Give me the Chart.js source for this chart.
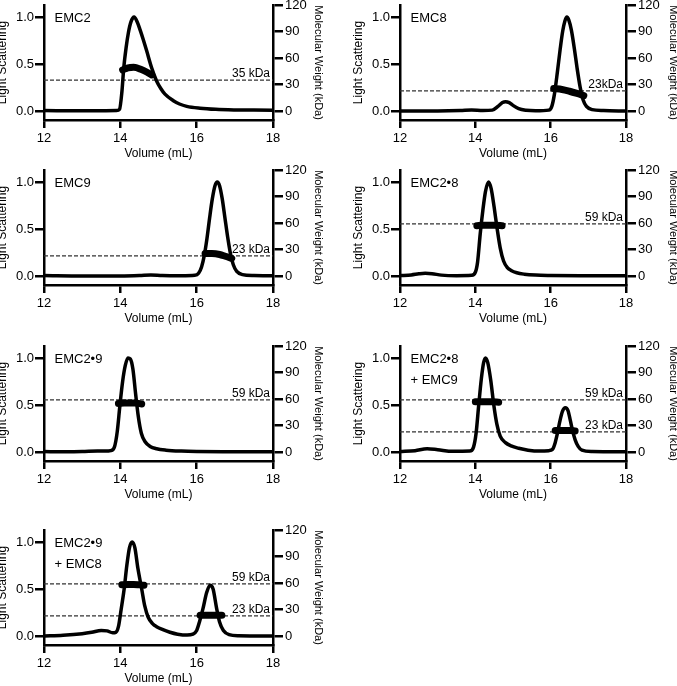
<!DOCTYPE html>
<html>
<head>
<meta charset="utf-8">
<title>SEC-MALS</title>
<script src="https://cdn.jsdelivr.net/npm/chart.js@4.4.1/dist/chart.umd.min.js"></script>
<style>
  html, body { margin: 0; padding: 0; background: #fff; overflow: hidden; }
  body { width: 677px; height: 686px; position: relative; }
  canvas { position: absolute; }
</style>
</head>
<body>
<canvas id="emc2"></canvas>
<canvas id="emc8"></canvas>
<canvas id="emc9"></canvas>
<canvas id="emc28"></canvas>
<canvas id="emc29"></canvas>
<canvas id="emc28p9"></canvas>
<canvas id="emc29p8"></canvas>
<script>
'use strict';

//
// Data
//

var volumeTicks = [12, 14, 16, 18];
var lsTicks = [0, 0.5, 1.0];
var mwTicks = [0, 30, 60, 90, 120];

// EMC2
var emc2Vol = [12.0, 13.0, 13.9, 13.98, 14.04, 14.09, 14.15, 14.21, 14.28, 14.36, 14.44, 14.52, 14.6, 14.69, 14.82, 14.95, 15.06, 15.17, 15.39, 15.55, 15.74, 16.09, 16.5, 17.0, 17.5, 18.0];
var emc2LS = [0.005, 0.003, 0.005, 0.02, 0.2, 0.46, 0.67, 0.83, 0.95, 1.0, 0.95, 0.86, 0.76, 0.64, 0.46, 0.32, 0.24, 0.18, 0.11, 0.075, 0.05, 0.03, 0.018, 0.012, 0.01, 0.008];
var emc2MwVol = [14.06, 14.2, 14.35, 14.55, 14.7, 14.82];
var emc2Mw = [46.5, 49, 49.5, 47, 44, 41];
var emc2Mass = [35];
var emc2MassLabels = ['35 kDa'];

// EMC8
var emc8Vol = [12.0, 13.0, 13.6, 13.9, 14.2, 14.45, 14.6, 14.72, 14.8, 14.9, 15.0, 15.15, 15.35, 15.6, 15.95, 16.03, 16.1, 16.18, 16.25, 16.32, 16.38, 16.43, 16.48, 16.55, 16.63, 16.7, 16.78, 16.86, 16.95, 17.1, 17.4, 18.0];
var emc8LS = [0.0, 0.0, 0.005, 0.012, 0.005, 0.01, 0.05, 0.09, 0.1, 0.09, 0.06, 0.025, 0.008, 0.003, 0.01, 0.05, 0.18, 0.42, 0.65, 0.85, 0.96, 1.0, 0.97, 0.86, 0.66, 0.46, 0.26, 0.12, 0.05, 0.015, 0.005, 0.0];
var emc8MwVol = [16.08, 16.3, 16.5, 16.7, 16.88];
var emc8Mw = [25.5, 24.5, 22.5, 20, 17.5];
var emc8Mass = [23];
var emc8MassLabels = ['23kDa'];

// EMC9
var emc9Vol = [12.0, 13.0, 14.0, 14.5, 14.8, 15.1, 15.6, 15.95, 16.05, 16.13, 16.2, 16.27, 16.34, 16.41, 16.48, 16.54, 16.6, 16.67, 16.74, 16.81, 16.88, 16.96, 17.05, 17.2, 17.5, 18.0];
var emc9LS = [0.005, 0.0, 0.0, 0.005, 0.012, 0.005, 0.003, 0.008, 0.03, 0.1, 0.22, 0.4, 0.62, 0.82, 0.96, 1.0, 0.96, 0.82, 0.62, 0.42, 0.25, 0.12, 0.05, 0.015, 0.005, 0.003];
var emc9MwVol = [16.22, 16.4, 16.6, 16.75, 16.92];
var emc9Mw = [25.5, 25.5, 24.5, 22.5, 20];
var emc9Mass = [23];
var emc9MassLabels = ['23 kDa'];

// EMC2•8
var emc28Vol = [12.0, 12.3, 12.5, 12.67, 12.85, 13.1, 13.5, 13.9, 14.0, 14.06, 14.13, 14.2, 14.27, 14.35, 14.42, 14.5, 14.58, 14.66, 14.75, 14.85, 14.95, 15.1, 15.3, 15.6, 16.0, 17.0, 18.0];
var emc28LS = [0.005, 0.012, 0.024, 0.03, 0.025, 0.01, 0.004, 0.008, 0.04, 0.15, 0.45, 0.7, 0.9, 1.0, 0.93, 0.73, 0.5, 0.3, 0.16, 0.09, 0.06, 0.035, 0.02, 0.01, 0.006, 0.003, 0.002];
var emc28MwVol = [14.04, 14.2, 14.4, 14.55, 14.71];
var emc28Mw = [57, 57.5, 57.5, 57.5, 57];
var emc28Mass = [59];
var emc28MassLabels = ['59 kDa'];

// EMC2•9
var emc29Vol = [12.0, 12.5, 13.0, 13.4, 13.6, 13.75, 13.85, 13.92, 13.99, 14.06, 14.13, 14.2, 14.26, 14.33, 14.4, 14.47, 14.55, 14.65, 14.78, 14.95, 15.2, 15.6, 16.0, 17.0, 18.0];
var emc29LS = [0.005, 0.003, 0.005, 0.012, 0.01, 0.015, 0.06, 0.22, 0.5, 0.75, 0.92, 1.0, 0.99, 0.88, 0.62, 0.38, 0.2, 0.11, 0.06, 0.035, 0.02, 0.01, 0.006, 0.004, 0.002];
var emc29MwVol = [13.95, 14.1, 14.25, 14.4, 14.56];
var emc29Mw = [55, 55.5, 55.5, 55.5, 54.5];
var emc29Mass = [59];
var emc29MassLabels = ['59 kDa'];

// EMC2•8 + EMC9
var emc28p9Vol = [12.0, 12.4, 12.72, 13.0, 13.4, 13.85, 13.95, 14.02, 14.09, 14.16, 14.22, 14.27, 14.33, 14.41, 14.49, 14.57, 14.66, 14.8, 14.95, 15.15, 15.4, 15.7, 15.95, 16.05, 16.12, 16.18, 16.24, 16.31, 16.39, 16.46, 16.52, 16.58, 16.65, 16.73, 16.83, 17.1, 18.0];
var emc28p9LS = [0.005, 0.015, 0.035, 0.025, 0.008, 0.01, 0.05, 0.2, 0.5, 0.78, 0.95, 1.0, 0.95, 0.76, 0.5, 0.3, 0.17, 0.1, 0.065, 0.04, 0.02, 0.01, 0.015, 0.03, 0.1, 0.2, 0.32, 0.43, 0.47, 0.44, 0.34, 0.23, 0.13, 0.06, 0.02, 0.005, 0.002];
var emc28p9MwVolA = [14.0, 14.15, 14.3, 14.45, 14.62];
var emc28p9MwA = [57, 57, 57, 57, 56.5];
var emc28p9MwVolB = [16.12, 16.25, 16.4, 16.52, 16.65];
var emc28p9MwB = [24.5, 24.5, 24.5, 24.5, 24];
var emc28p9Mass = [59, 23];
var emc28p9MassLabels = ['59 kDa', '23 kDa'];

// EMC2•9 + EMC8
var emc29p8Vol = [12.0, 12.5, 13.0, 13.25, 13.5, 13.65, 13.8, 13.88, 13.95, 14.02, 14.1, 14.17, 14.24, 14.31, 14.38, 14.46, 14.56, 14.64, 14.73, 14.85, 14.95, 15.1, 15.3, 15.5, 15.75, 15.9, 16.0, 16.08, 16.17, 16.26, 16.35, 16.43, 16.52, 16.6, 16.7, 16.85, 17.1, 18.0];
var emc29p8LS = [0.0, 0.008, 0.025, 0.04, 0.06, 0.055, 0.035, 0.04, 0.1, 0.28, 0.5, 0.75, 0.94, 1.0, 0.94, 0.72, 0.5, 0.32, 0.2, 0.13, 0.1, 0.07, 0.04, 0.02, 0.01, 0.02, 0.06, 0.16, 0.3, 0.46, 0.54, 0.5, 0.3, 0.15, 0.06, 0.015, 0.003, 0.0];
var emc29p8MwVolA = [14.04, 14.2, 14.35, 14.5, 14.62];
var emc29p8MwA = [58, 58.5, 58.5, 58, 57.5];
var emc29p8MwVolB = [16.09, 16.25, 16.4, 16.55, 16.66];
var emc29p8MwB = [23.5, 23.5, 23.5, 23.5, 23.5];
var emc29p8Mass = [59, 23];
var emc29p8MassLabels = ['59 kDa', '23 kDa'];


//
// Layout
//

var FONT = '"Liberation Sans", Arial, Helvetica, sans-serif';
var columns = [
	{ left: -5, width: 330, axisL: 49, axisR: 52 },
	{ left: 351, width: 329, axisL: 49, axisR: 54 }
];
var rowTops = [5, 170, 346, 530];
var PAD_TOP = 10, PLOT_H = 115, X_AXIS_H = 41;

Chart.defaults.font.family = FONT;
Chart.defaults.color = '#000';


//
// Panels
//

function toPoints(xs, ys) {
	return xs.map(function(x, i) { return { x: x, y: ys[i] }; });
}

function tickSetter(values) {
	return function(axis) {
		axis.ticks = values.map(function(v) { return { value: v }; });
	};
}

function axisGrid(len) {
	return {
		display: true,
		drawOnChartArea: false,
		drawTicks: true,
		tickLength: len,
		tickWidth: 2.5,
		lineWidth: 2.5,
		tickColor: '#000',
		color: '#000'
	};
}

function makePanel(id, col, row, names, vol, ls, segments, masses, massLabels) {
	var c = columns[col];
	var canvas = document.getElementById(id);
	canvas.width = c.width;
	canvas.height = PAD_TOP + PLOT_H + X_AXIS_H;
	canvas.style.left = c.left + 'px';
	canvas.style.top = (rowTops[row] - PAD_TOP) + 'px';

	var datasets = [];

	// molar mass across peaks
	segments.forEach(function(seg) {
		datasets.push({
			data: toPoints(seg[0], seg[1]),
			yAxisID: 'y2',
			borderColor: '#000',
			borderWidth: 7,
			borderCapStyle: 'round',
			borderJoinStyle: 'round',
			cubicInterpolationMode: 'monotone',
			pointRadius: 0
		});
	});

	// light scattering trace
	datasets.push({
		data: toPoints(vol, ls),
		yAxisID: 'y',
		borderColor: '#000',
		borderWidth: 3.5,
		borderJoinStyle: 'round',
		cubicInterpolationMode: 'monotone',
		pointRadius: 0
	});

	// expected mass lines
	masses.forEach(function(m) {
		datasets.push({
			data: [{ x: volumeTicks[0], y: m }, { x: volumeTicks[volumeTicks.length - 1], y: m }],
			yAxisID: 'y2',
			borderColor: '#333',
			borderWidth: 1.3,
			borderDash: [4, 2],
			pointRadius: 0
		});
	});

	var textPlugin = {
		id: 'panelText',
		afterDatasetsDraw: function(chart) {
			var ctx = chart.ctx, area = chart.chartArea;
			var yS = chart.scales.y, y2S = chart.scales.y2;
			ctx.save();
			ctx.fillStyle = '#000';
			ctx.textBaseline = 'alphabetic';
			ctx.textAlign = 'left';
			ctx.font = '13px ' + FONT;
			names.forEach(function(n, i) {
				ctx.fillText(n, area.left + 10.5, yS.getPixelForValue(1) + 4.7 + i * 21);
			});
			ctx.textAlign = 'right';
			ctx.font = '12px ' + FONT;
			masses.forEach(function(m, i) {
				ctx.fillText(massLabels[i], area.right - 3, y2S.getPixelForValue(m) - 3);
			});
			ctx.restore();
		}
	};

	return new Chart(canvas, {
		type: 'line',
		data: { datasets: datasets },
		options: {
			responsive: false,
			animation: false,
			events: [],
			layout: { padding: { top: PAD_TOP, left: 0, right: 0, bottom: 0 } },
			plugins: { legend: { display: false }, tooltip: { enabled: false } },
			scales: {
				x: {
					type: 'linear',
					min: 12,
					max: 18,
					afterBuildTicks: tickSetter(volumeTicks),
					afterFit: function(s) { s.height = X_AXIS_H; },
					ticks: { font: { size: 13 }, padding: 3, maxRotation: 0 },
					grid: axisGrid(8),
					border: { display: true, color: '#000', width: 2.5 },
					title: { display: true, text: 'Volume (mL)', font: { size: 12 }, padding: 0 }
				},
				y: {
					position: 'left',
					min: -0.095,
					max: 1.127,
					afterBuildTicks: tickSetter(lsTicks),
					afterFit: function(s) { s.width = c.axisL; },
					ticks: { font: { size: 13 }, padding: 1, callback: function(v) { return v.toFixed(1); } },
					grid: axisGrid(9),
					border: { display: true, color: '#000', width: 2.5 },
					title: { display: true, text: 'Light Scattering', font: { size: 12 }, padding: 0 }
				},
				y2: {
					position: 'right',
					min: -10,
					max: 120,
					afterBuildTicks: tickSetter(mwTicks),
					afterFit: function(s) { s.width = c.axisR; },
					ticks: { font: { size: 13 }, padding: 2 },
					grid: axisGrid(10),
					border: { display: true, color: '#000', width: 2.5 },
					title: { display: true, text: 'Molecular Weight (kDa)', font: { size: 11 }, padding: 0 }
				}
			}
		},
		plugins: [textPlugin]
	});
}

makePanel('emc2', 0, 0, ['EMC2'], emc2Vol, emc2LS, [[emc2MwVol, emc2Mw]], emc2Mass, emc2MassLabels);
makePanel('emc8', 1, 0, ['EMC8'], emc8Vol, emc8LS, [[emc8MwVol, emc8Mw]], emc8Mass, emc8MassLabels);
makePanel('emc9', 0, 1, ['EMC9'], emc9Vol, emc9LS, [[emc9MwVol, emc9Mw]], emc9Mass, emc9MassLabels);
makePanel('emc28', 1, 1, ['EMC2•8'], emc28Vol, emc28LS, [[emc28MwVol, emc28Mw]], emc28Mass, emc28MassLabels);
makePanel('emc29', 0, 2, ['EMC2•9'], emc29Vol, emc29LS, [[emc29MwVol, emc29Mw]], emc29Mass, emc29MassLabels);
makePanel('emc28p9', 1, 2, ['EMC2•8', '+ EMC9'], emc28p9Vol, emc28p9LS,
	[[emc28p9MwVolA, emc28p9MwA], [emc28p9MwVolB, emc28p9MwB]], emc28p9Mass, emc28p9MassLabels);
makePanel('emc29p8', 0, 3, ['EMC2•9', '+ EMC8'], emc29p8Vol, emc29p8LS,
	[[emc29p8MwVolA, emc29p8MwA], [emc29p8MwVolB, emc29p8MwB]], emc29p8Mass, emc29p8MassLabels);
</script>
</body>
</html>
